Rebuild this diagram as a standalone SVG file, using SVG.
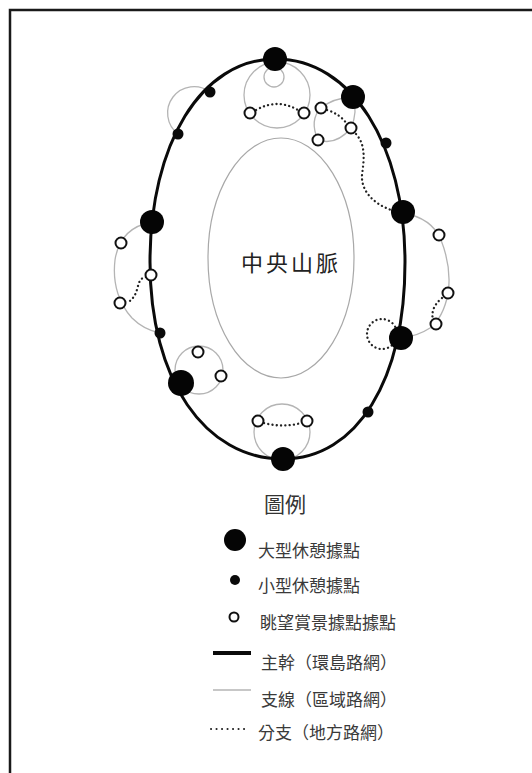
<svg xmlns="http://www.w3.org/2000/svg" width="532" height="773" viewBox="0 0 532 773">
<style>
.frame{stroke:#1a1a1a;stroke-width:2.5;fill:none}
.main{stroke:#0a0a0a;stroke-width:3;fill:none}
.branch{stroke:#b4b4b4;stroke-width:1.3;fill:none}
.dot{stroke:#222;stroke-width:2.3;stroke-dasharray:0.1 4.2;stroke-linecap:round;fill:none}
.big{fill:#050505}
.small{fill:#0a0a0a}
.open{fill:#fff;stroke:#111;stroke-width:2}
.mtn{stroke:#a8a8a8;stroke-width:1.2;fill:none}
.lbl{font-family:"Noto Sans CJK TC","Noto Sans CJK SC",sans-serif;fill:#3a3a3a;font-size:17px}
</style>
<rect width="532" height="773" fill="#fff"/>
<path class="frame" d="M10,773 L10,10 L532,10"/>

<g id="mountain">
<ellipse class="mtn" cx="281" cy="258" rx="73" ry="120"/>
<text x="291" y="271" text-anchor="middle" font-family="'Noto Sans CJK TC','Noto Sans CJK SC',sans-serif" font-size="22" letter-spacing="3" fill="#222">中央山脈</text>
</g>

<g id="connectors">
<circle class="branch" cx="277" cy="95" r="33"/>
<circle class="branch" cx="274" cy="77" r="10"/>
<path class="branch" d="M210,92 A26,26 0 0 0 178,134"/>
<path class="branch" d="M353,97 Q333,98 321,108 Q309,120 318,140 Q336,146 351,128 Q358,112 353,97 Z"/>
<path class="branch" d="M403,213 Q432,218 441,240 Q452,268 448,294 Q443,318 430,328 Q418,336 401,338"/>
<circle class="branch" cx="282" cy="432" r="28"/>
<circle class="branch" cx="199" cy="370" r="24"/>
<path class="branch" d="M152,222 C130,226 118,240 115,260 C112,285 120,305 132,318 C140,326 150,331 160,333"/>
<path class="dot" d="M256,110 Q277,98 298,110"/>
<path class="dot" d="M327,110 Q340,114 347,124"/>
<path class="dot" d="M356,134 C366,145 364,160 362,175 C361,190 372,203 391,210"/>
<path class="dot" d="M442,298 Q430,308 433,320"/>
<circle class="dot" cx="382" cy="334" r="15"/>
<path class="dot" d="M264,423 Q283,428 301,423"/>
<path class="dot" d="M146,277 C134,279 142,294 127,303"/>
<path class="main" d="M276,59 C351,59 405,144 405,262 C405,380 357,459 283,459 C205,459 150,380 150,262 C150,144 201,59 276,59 Z"/>
</g>

<g id="big-rest-stops">
<g id="B1"><circle class="big" cx="275" cy="59" r="12"/></g>
<g id="B2"><circle class="big" cx="353" cy="97" r="12"/></g>
<g id="B3"><circle class="big" cx="403" cy="212" r="12"/></g>
<g id="B4"><circle class="big" cx="401" cy="338" r="12"/></g>
<g id="B5"><circle class="big" cx="283" cy="459" r="12"/></g>
<g id="B6"><circle class="big" cx="181" cy="383" r="13"/></g>
<g id="B7"><circle class="big" cx="152" cy="222" r="12"/></g>
</g>
<g id="small-rest-stops">
<g id="S1"><circle class="small" cx="210" cy="92" r="5.5"/></g>
<g id="S2"><circle class="small" cx="178" cy="134" r="5.5"/></g>
<g id="S3"><circle class="small" cx="386" cy="143" r="5.5"/></g>
<g id="S4"><circle class="small" cx="368" cy="412" r="5.5"/></g>
<g id="S5"><circle class="small" cx="160" cy="333" r="5.5"/></g>
</g>
<g id="viewpoints">
<g id="O1"><circle class="open" cx="250" cy="113" r="5.5"/></g>
<g id="O2"><circle class="open" cx="304" cy="113" r="5.5"/></g>
<g id="O3"><circle class="open" cx="321" cy="108" r="5.5"/></g>
<g id="O4"><circle class="open" cx="351" cy="128" r="5.5"/></g>
<g id="O5"><circle class="open" cx="318" cy="140" r="5.5"/></g>
<g id="O6"><circle class="open" cx="439" cy="235" r="5.5"/></g>
<g id="O7"><circle class="open" cx="448" cy="293" r="5.5"/></g>
<g id="O8"><circle class="open" cx="436" cy="324" r="5.5"/></g>
<g id="O9"><circle class="open" cx="258" cy="421" r="5.5"/></g>
<g id="O10"><circle class="open" cx="307" cy="421" r="5.5"/></g>
<g id="O11"><circle class="open" cx="198" cy="352" r="5.5"/></g>
<g id="O12"><circle class="open" cx="221" cy="376" r="5.5"/></g>
<g id="O13"><circle class="open" cx="121" cy="243" r="5.5"/></g>
<g id="O14"><circle class="open" cx="120" cy="303" r="5.5"/></g>
<g id="O15"><circle class="open" cx="151" cy="275" r="5.5"/></g>
</g>

<g id="legend">
<text x="285" y="512" text-anchor="middle" font-family="'Noto Sans CJK TC','Noto Sans CJK SC',sans-serif" font-size="21" fill="#333">圖例</text>
<g id="leg-big"><circle class="big" cx="235" cy="540" r="11"/><text class="lbl" x="258" y="557">大型休憩據點</text></g>
<g id="leg-small"><circle class="small" cx="235" cy="580" r="5"/><text class="lbl" x="258" y="592">小型休憩據點</text></g>
<g id="leg-open"><circle class="open" cx="234" cy="617" r="4.5"/><text class="lbl" x="260" y="629">眺望賞景據點據點</text></g>
<g id="leg-trunk"><line x1="213" y1="653" x2="251" y2="653" stroke="#0a0a0a" stroke-width="4"/><text class="lbl" x="261" y="669" font-size="16.5">主幹（環島路網）</text></g>
<g id="leg-branch"><line x1="213" y1="690" x2="251" y2="690" class="branch"/><text class="lbl" x="261" y="706" font-size="16.5">支線（區域路網）</text></g>
<g id="leg-local"><line x1="211" y1="729" x2="249" y2="729" class="dot" style="stroke-dasharray:0.1 5.4;stroke-width:2"/><text class="lbl" x="258" y="739" font-size="16.5">分支（地方路網）</text></g>
</g>
</svg>
